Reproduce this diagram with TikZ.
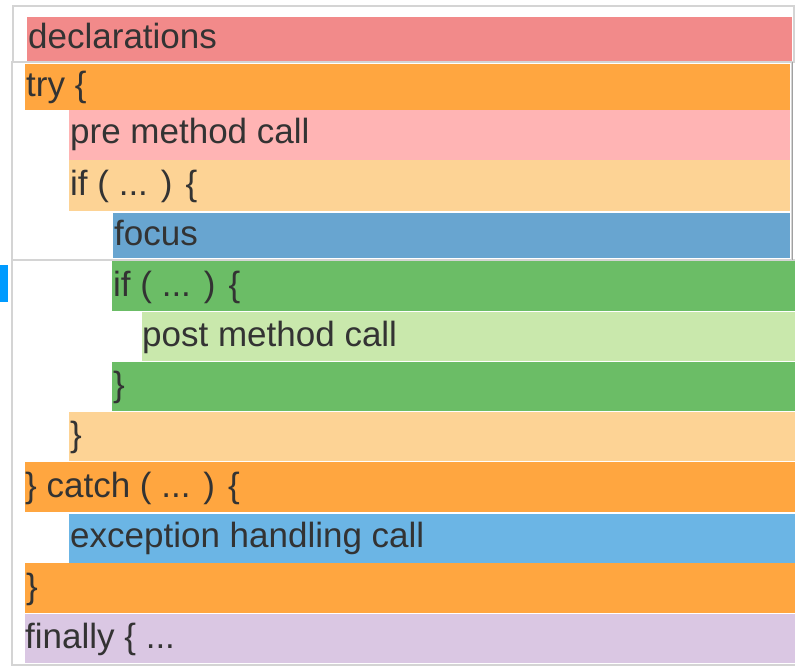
\documentclass[tikz,border=0pt]{standalone}
\usepackage{fontspec}
\setmainfont{Liberation Sans}
\usepackage{xcolor}
\usepackage{tikz}

\definecolor{codegray}{RGB}{51,51,51}
\definecolor{framegray}{RGB}{212,212,212}
\definecolor{shadegray}{RGB}{160,160,160}
\definecolor{declred}{RGB}{242,138,138}
\definecolor{tryorange}{RGB}{255,166,64}
\definecolor{prepink}{RGB}{255,180,180}
\definecolor{ifpeach}{RGB}{253,211,149}
\definecolor{focusblue}{RGB}{104,165,208}
\definecolor{ifgreen}{RGB}{107,189,102}
\definecolor{postgreen}{RGB}{201,232,172}
\definecolor{catchblue}{RGB}{107,181,229}
\definecolor{finlilac}{RGB}{218,199,227}
\definecolor{markblue}{RGB}{0,155,255}

\tikzset{
  code/.style={anchor=base west, inner sep=0pt, text=codegray, font=\fontsize{35}{42}\selectfont},
  frame/.style={draw=framegray, line width=1.2pt},
}

\begin{document}
\begin{tikzpicture}[x=1pt, y=-1pt]
\useasboundingbox (0,0) rectangle (795,666);
\fill[white] (0,0) rectangle (795,666);

\draw[frame] (13,6) rectangle (794,62);
\draw[frame] (12,62) rectangle (792,260);
\draw[frame] (12,260) rectangle (796,665);
\draw[shadegray, line width=1.5pt] (792.5,62) -- (792.5,260);
\fill[markblue] (0,265) rectangle (8,302);

\fill[declred] (27,17) rectangle (792,61);
\fill[tryorange] (25,64) rectangle (790,110);
\fill[prepink] (69,110) rectangle (790,160);
\fill[ifpeach] (69,160) rectangle (790,211);
\fill[focusblue] (113,213) rectangle (790,258);
\fill[ifgreen] (112,261) rectangle (795,311);
\fill[postgreen] (142,312) rectangle (795,361);
\fill[ifgreen] (112,362) rectangle (795,411);
\fill[ifpeach] (69,412) rectangle (795,461);
\fill[tryorange] (25,462) rectangle (795,512);
\fill[catchblue] (69,514) rectangle (795,563);
\fill[tryorange] (25,563) rectangle (795,613);
\fill[finlilac] (25,614) rectangle (795,663);

\node[code] (decl) at (28,49) {declarations};
\node[code] (try) at (26,97) {try \{};
\node[code] (pre) at (70,144) {pre method call};
\node[code] (ifouter) at (70,195) {if ( ... ) \{};
\node[code] (focus) at (114,245) {focus};
\node[code] (ifinner) at (113,296) {if ( ... ) \{};
\node[code] (post) at (142,346) {post method call};
\node[code] (closeinner) at (113,396) {\}};
\node[code] (closeouter) at (70,446) {\}};
\node[code] (catch) at (25,497) {\} catch ( ... ) \{};
\node[code] (handle) at (70,547) {exception handling call};
\node[code] (closetry) at (26,598) {\}};
\node[code] (finally) at (25,648) {finally \{ ...};
\end{tikzpicture}
\end{document}
